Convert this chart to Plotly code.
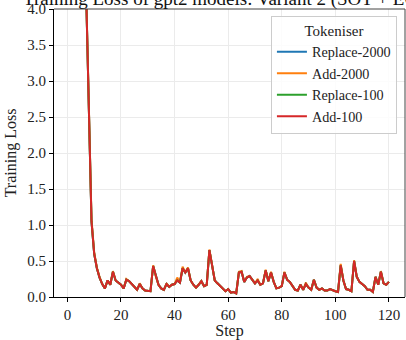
import plotly.graph_objects as go

steps = list(range(1, 121))

replace_2000 = [10.9, 10.6, 10.0, 8.9, 7.4, 5.8, 4.15, 2.5, 1.05, 0.6,
                0.4, 0.27, 0.18, 0.12, 0.23, 0.17, 0.35, 0.23, 0.2, 0.17,
                0.12, 0.24, 0.22, 0.18, 0.13, 0.1, 0.18, 0.12, 0.09, 0.08,
                0.08, 0.43, 0.28, 0.17, 0.12, 0.1, 0.18, 0.14, 0.17, 0.18,
                0.23, 0.2, 0.4, 0.34, 0.4, 0.23, 0.17, 0.13, 0.17, 0.22,
                0.15, 0.17, 0.65, 0.41, 0.23, 0.19, 0.15, 0.12, 0.08, 0.11,
                0.06, 0.07, 0.05, 0.34, 0.35, 0.21, 0.27, 0.29, 0.24, 0.19,
                0.23, 0.17, 0.19, 0.37, 0.22, 0.34, 0.21, 0.12, 0.13, 0.15,
                0.34, 0.24, 0.21, 0.15, 0.1, 0.09, 0.17, 0.1, 0.18, 0.13,
                0.1, 0.24, 0.13, 0.1, 0.12, 0.09, 0.09, 0.11, 0.09, 0.08,
                0.07, 0.44, 0.23, 0.11, 0.1, 0.08, 0.5, 0.28, 0.21, 0.18,
                0.15, 0.1, 0.1, 0.07, 0.28, 0.17, 0.35, 0.19, 0.17, 0.21]

add_2000 = [10.9, 10.6, 10.0, 8.9, 7.4, 5.8, 4.2, 2.55, 1.08, 0.62,
            0.41, 0.28, 0.18, 0.12, 0.23, 0.17, 0.36, 0.23, 0.2, 0.17,
            0.12, 0.25, 0.22, 0.18, 0.13, 0.1, 0.19, 0.12, 0.09, 0.08,
            0.08, 0.44, 0.28, 0.17, 0.12, 0.1, 0.19, 0.14, 0.17, 0.18,
            0.27, 0.2, 0.42, 0.34, 0.41, 0.23, 0.17, 0.13, 0.17, 0.22,
            0.15, 0.17, 0.66, 0.41, 0.23, 0.19, 0.15, 0.12, 0.08, 0.11,
            0.06, 0.07, 0.05, 0.35, 0.36, 0.21, 0.28, 0.29, 0.24, 0.19,
            0.25, 0.17, 0.19, 0.38, 0.22, 0.35, 0.21, 0.12, 0.13, 0.15,
            0.35, 0.24, 0.21, 0.15, 0.1, 0.09, 0.17, 0.1, 0.2, 0.13,
            0.1, 0.24, 0.13, 0.1, 0.12, 0.09, 0.09, 0.11, 0.09, 0.08,
            0.07, 0.46, 0.23, 0.11, 0.1, 0.08, 0.51, 0.28, 0.21, 0.18,
            0.15, 0.1, 0.1, 0.07, 0.28, 0.17, 0.36, 0.19, 0.17, 0.21]

replace_100 = [10.9, 10.6, 10.0, 8.9, 7.4, 5.8, 4.15, 2.5, 1.05, 0.6,
               0.4, 0.27, 0.18, 0.12, 0.23, 0.17, 0.35, 0.23, 0.2, 0.17,
               0.12, 0.24, 0.22, 0.18, 0.13, 0.1, 0.18, 0.12, 0.09, 0.08,
               0.08, 0.43, 0.28, 0.17, 0.12, 0.1, 0.18, 0.14, 0.17, 0.18,
               0.23, 0.2, 0.4, 0.34, 0.4, 0.23, 0.17, 0.13, 0.17, 0.22,
               0.15, 0.17, 0.65, 0.41, 0.23, 0.19, 0.15, 0.12, 0.08, 0.11,
               0.06, 0.07, 0.05, 0.34, 0.35, 0.21, 0.27, 0.29, 0.24, 0.19,
               0.23, 0.17, 0.19, 0.37, 0.22, 0.34, 0.21, 0.12, 0.13, 0.15,
               0.34, 0.24, 0.21, 0.15, 0.1, 0.09, 0.17, 0.1, 0.18, 0.13,
               0.1, 0.24, 0.13, 0.1, 0.12, 0.09, 0.09, 0.11, 0.09, 0.08,
               0.07, 0.44, 0.23, 0.11, 0.1, 0.08, 0.5, 0.28, 0.21, 0.18,
               0.15, 0.1, 0.1, 0.07, 0.28, 0.17, 0.35, 0.19, 0.17, 0.21]

add_100 = [10.9, 10.6, 10.0, 8.9, 7.4, 5.8, 4.15, 2.5, 1.05, 0.6,
           0.4, 0.27, 0.18, 0.12, 0.23, 0.17, 0.35, 0.23, 0.2, 0.17,
           0.12, 0.24, 0.22, 0.18, 0.13, 0.1, 0.18, 0.12, 0.09, 0.08,
           0.08, 0.43, 0.28, 0.17, 0.12, 0.1, 0.18, 0.14, 0.17, 0.18,
           0.23, 0.2, 0.4, 0.34, 0.4, 0.23, 0.17, 0.13, 0.17, 0.22,
           0.15, 0.17, 0.65, 0.41, 0.23, 0.19, 0.15, 0.12, 0.08, 0.11,
           0.06, 0.07, 0.05, 0.34, 0.35, 0.21, 0.27, 0.29, 0.24, 0.19,
           0.23, 0.17, 0.19, 0.37, 0.22, 0.34, 0.21, 0.12, 0.13, 0.15,
           0.34, 0.24, 0.21, 0.15, 0.1, 0.09, 0.17, 0.1, 0.18, 0.13,
           0.1, 0.24, 0.13, 0.1, 0.12, 0.09, 0.09, 0.11, 0.09, 0.08,
           0.07, 0.44, 0.23, 0.11, 0.1, 0.08, 0.5, 0.28, 0.21, 0.18,
           0.15, 0.1, 0.1, 0.07, 0.28, 0.17, 0.35, 0.19, 0.17, 0.21]

series_names = ["Replace-2000", "Add-2000", "Replace-100", "Add-100"]
series_values = [replace_2000, add_2000, replace_100, add_100]
colors = ["#1f77b4", "#ff7f0e", "#2ca02c", "#d62728"]

x_ticks = [0, 20, 40, 60, 80, 100, 120]
y_ticks = [0.0, 0.5, 1.0, 1.5, 2.0, 2.5, 3.0, 3.5, 4.0]

FONT = "Liberation Serif"

fig = go.Figure()
for name, vals, col in zip(series_names, series_values, colors):
    fig.add_trace(go.Scatter(x=steps, y=vals, mode="lines", name=name,
                             line=dict(color=col, width=2)))

fig.update_layout(
    width=406, height=340,
    margin=dict(l=54, r=1, t=7, b=43),
    paper_bgcolor="white", plot_bgcolor="white",
    font=dict(family=FONT, size=15, color="#222"),
    showlegend=True,
    legend=dict(
        title=dict(text="Tokeniser", side="top center", font=dict(size=15)),
        x=0.977, y=0.977, xanchor="right", yanchor="top",
        bgcolor="rgba(255,255,255,0.85)", bordercolor="#cccccc", borderwidth=1,
        font=dict(size=14.2), itemwidth=30, tracegroupgap=0,
    ),
    xaxis=dict(
        range=[-5, 126], tickvals=x_ticks, ticktext=[str(v) for v in x_ticks],
        showgrid=True, gridcolor="#ebebeb", gridwidth=1,
        showline=True, linecolor="black", linewidth=1,
        ticks="outside", ticklen=4, tickcolor="black",
        zeroline=False, ticklabeloverflow="allow",
        title=dict(text="Step", standoff=4, font=dict(size=16)),
    ),
    yaxis=dict(
        range=[0, 4.0], tickvals=y_ticks, ticktext=[f"{v:.1f}" for v in y_ticks],
        showgrid=True, gridcolor="#ebebeb", gridwidth=1,
        showline=True, linecolor="black", linewidth=1,
        ticks="outside", ticklen=4, tickcolor="black",
        zeroline=False, ticklabeloverflow="allow",
        title=dict(text="Training Loss", standoff=6, font=dict(size=16)),
    ),
    shapes=[
        dict(type="line", xref="paper", yref="paper", x0=0, x1=1, y0=1, y1=1,
             line=dict(color="#444", width=1)),
        dict(type="line", xref="paper", yref="paper", x0=1, x1=1, y0=0, y1=1,
             line=dict(color="#444", width=1)),
    ],
    annotations=[
        dict(text="Training Loss of gpt2 models: Variant 2 (SOT + EOT)",
             xref="paper", yref="paper", x=0.5, y=1, xanchor="center",
             yanchor="bottom", yshift=-3, showarrow=False,
             font=dict(family=FONT, size=19, color="#111")),
    ],
)

fig.write_html("out.html")
